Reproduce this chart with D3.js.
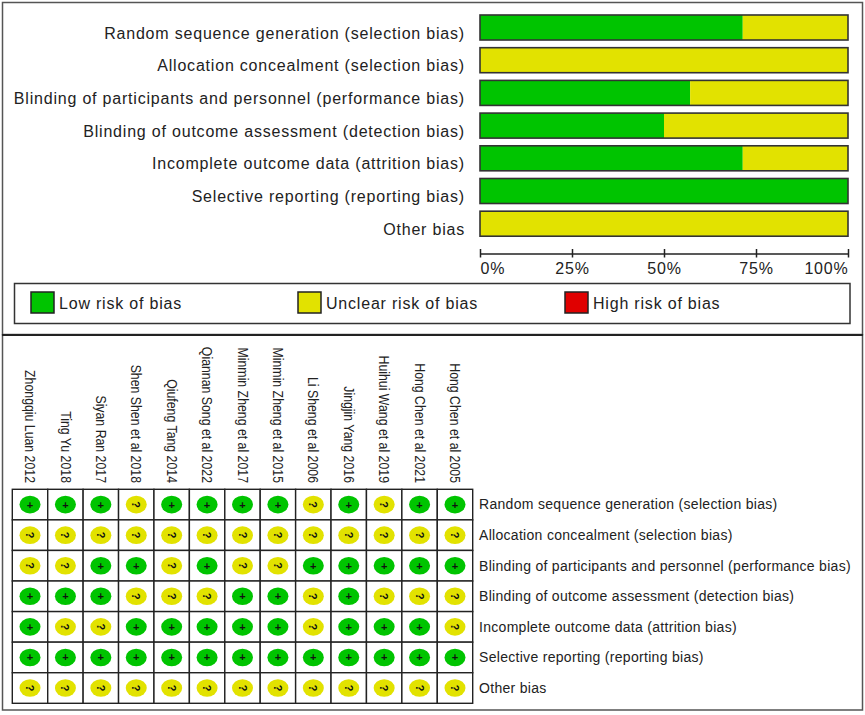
<!DOCTYPE html>
<html>
<head>
<meta charset="utf-8">
<script src="https://cdn.jsdelivr.net/npm/d3@7"></script>
<style>
  body { margin: 0; background: #fff; }
  svg { display: block; font-family: "Liberation Sans", Arial, sans-serif; }
</style>
</head>
<body>
<div id="chart"></div>
<script>
// risk of bias domains (rows of both panels)
const domains = [
  "Random sequence generation (selection bias)",
  "Allocation concealment (selection bias)",
  "Blinding of participants and personnel (performance bias)",
  "Blinding of outcome assessment (detection bias)",
  "Incomplete outcome data (attrition bias)",
  "Selective reporting (reporting bias)",
  "Other bias"
];

// percentages
const lowPct     = [71.4, 0, 57.1, 50, 71.4, 100, 0];
const unclearPct = [28.6, 100, 42.9, 50, 28.6, 0, 100];
const highPct    = [0, 0, 0, 0, 0, 0, 0];

const studies = [
  "Zhongqiu Luan 2012", "Ting Yu 2018", "Siyan Ran 2017", "Shen Shen et al 2018",
  "Qiufeng Tang 2014", "Qiannan Song et al 2022", "Minmin Zheng et al 2017",
  "Minmin Zheng et al 2015", "Li Sheng et al 2006", "Jingjin Yang 2016",
  "Huihui Wang et al 2019", "Hong Chen et al 2021", "Hong Chen et al 2005"
];

// one string per domain, one char per study: + low, ? unclear
const judgements = [
  "+++?++++?+?++",
  "?????????????",
  "??++?+??+++++",
  "+++???++?+???",
  "+??+++++?+++?",
  "+++++++++++++",
  "?????????????"
];

const legendLabels = ["Low risk of bias", "Unclear risk of bias", "High risk of bias"];
const tickVals = [0, 25, 50, 75, 100];

const GREEN = "#00c400", YELLOW = "#e2e200", RED = "#e00000";
const colors = [GREEN, YELLOW, RED];

const width = 865, height = 715;

const svg = d3.select("#chart").append("svg")
  .attr("width", width)
  .attr("height", height);

// panel frames
svg.append("rect").attr("x", 2.5).attr("y", 2.5).attr("width", 860).attr("height", 332)
  .attr("fill", "none").attr("stroke", "#555").attr("stroke-width", 1.5);
svg.append("rect").attr("x", 2.5).attr("y", 335).attr("width", 860).attr("height", 375)
  .attr("fill", "none").attr("stroke", "#555").attr("stroke-width", 1.5);
svg.append("line").attr("x1", 2).attr("x2", 863).attr("y1", 335).attr("y2", 335)
  .attr("stroke", "#222").attr("stroke-width", 2);

// ---------- top panel: summary bars ----------
var x = d3.scaleLinear().domain([0, 100]).range([480, 848]);
var y = d3.scaleBand().domain(domains).range([11.15, 240.05])
  .paddingInner(0.235).paddingOuter(0.1175);

var stackData = domains.map((d, i) => ({ domain: d, low: lowPct[i], unclear: unclearPct[i], high: highPct[i] }));
var stack = d3.stack().keys(["low", "unclear", "high"])(stackData);

var barG = svg.append("g");
stack.forEach((layer, k) => {
  barG.selectAll(null).data(layer.filter(s => s[1] - s[0] > 0)).enter().append("rect")
    .attr("x", s => x(s[0]))
    .attr("y", s => y(s.data.domain))
    .attr("width", s => x(s[1]) - x(s[0]))
    .attr("height", y.bandwidth())
    .attr("fill", colors[k]);
});
// outline around each whole bar
barG.selectAll(".frame").data(domains).enter().append("rect")
  .attr("class", "frame")
  .attr("x", x(0)).attr("y", d => y(d))
  .attr("width", x(100) - x(0)).attr("height", y.bandwidth())
  .attr("fill", "none").attr("stroke", "#333").attr("stroke-width", 1.6);

svg.append("g").selectAll("text").data(domains).enter().append("text")
  .attr("x", 465)
  .attr("y", d => y(d) + y.bandwidth() / 2 + 11)
  .attr("text-anchor", "end")
  .attr("font-size", 16)
  .attr("letter-spacing", 0.8)
  .attr("fill", "#222")
  .text(d => d);

var xaxis = d3.axisBottom(x).tickValues(tickVals).tickFormat(d => d + "%")
  .tickSizeInner(4).tickSizeOuter(0).tickPadding(5);
var ax = svg.append("g").attr("transform", "translate(0,253.5)").call(xaxis);
ax.select(".domain").attr("stroke", "#222").attr("stroke-width", 1.5);
ax.selectAll(".tick line").attr("y1", -4.5).attr("stroke", "#222").attr("stroke-width", 1.5);
ax.selectAll(".tick text")
  .attr("font-size", 16).attr("letter-spacing", 0.8)
  .attr("font-family", "Liberation Sans, Arial, sans-serif").attr("fill", "#222")
  .attr("text-anchor", (d, i) => i === 0 ? "start" : (i === tickVals.length - 1 ? "end" : "middle"));

// legend
svg.append("rect").attr("x", 14.5).attr("y", 283.5).attr("width", 835.5).attr("height", 40)
  .attr("fill", "none").attr("stroke", "#333").attr("stroke-width", 1.5);
var legendX = [31, 298, 565];
var leg = svg.append("g").selectAll("g").data(legendLabels).enter().append("g")
  .attr("transform", (d, i) => "translate(" + legendX[i] + ",292)");
leg.append("rect").attr("width", 23).attr("height", 21)
  .attr("fill", (d, i) => colors[i]).attr("stroke", "#222").attr("stroke-width", 1.5);
leg.append("text").attr("x", 28).attr("y", 17).attr("font-size", 16)
  .attr("letter-spacing", 0.8).attr("fill", "#222").text(d => d);

// ---------- bottom panel: study grid ----------
var gx = d3.scaleBand().domain(studies).range([12.3, 472.7]);
var gy = d3.scaleBand().domain(domains).range([489.3, 703.3]);

var grid = svg.append("g");
domains.forEach((dom, r) => {
  studies.forEach((st, c) => {
    var j = judgements[r][c];
    var cx = gx(st) + gx.bandwidth() / 2, cy = gy(dom) + gy.bandwidth() / 2;
    grid.append("rect")
      .attr("x", gx(st)).attr("y", gy(dom))
      .attr("width", gx.bandwidth()).attr("height", gy.bandwidth())
      .attr("fill", "#fff").attr("stroke", "#222").attr("stroke-width", 1.4);
    grid.append("ellipse")
      .attr("cx", cx).attr("cy", cy).attr("rx", 10.5).attr("ry", 8.8)
      .attr("fill", j === "+" ? GREEN : (j === "?" ? YELLOW : RED));
    if (j === "+") {
      grid.append("text").attr("x", cx).attr("y", cy).attr("dy", "0.36em")
        .attr("text-anchor", "middle").attr("font-size", 11).attr("font-weight", "bold")
        .attr("fill", "#111").text("+");
    } else {
      grid.append("text")
        .attr("transform", "translate(" + cx + "," + cy + ") rotate(90)")
        .attr("dy", "0.36em")
        .attr("text-anchor", "middle").attr("font-size", 11).attr("font-weight", "bold")
        .attr("fill", "#111").text(j === "?" ? "?" : "-");
    }
  });
});

// study names, rotated
svg.append("g").selectAll("text").data(studies).enter().append("text")
  .attr("transform", d => "translate(" + (gx(d) + gx.bandwidth() / 2) + ",483) rotate(90) scale(0.88,1)")
  .attr("dy", "0.35em")
  .attr("text-anchor", "end")
  .attr("font-size", 14)
  .attr("fill", "#222")
  .text(d => d);

// domain labels on the right
svg.append("g").selectAll("text").data(domains).enter().append("text")
  .attr("x", 479)
  .attr("y", d => gy(d) + gy.bandwidth() / 2)
  .attr("dy", "0.35em")
  .attr("font-size", 14)
  .attr("letter-spacing", 0.3)
  .attr("fill", "#222")
  .text(d => d);
</script>
</body>
</html>
